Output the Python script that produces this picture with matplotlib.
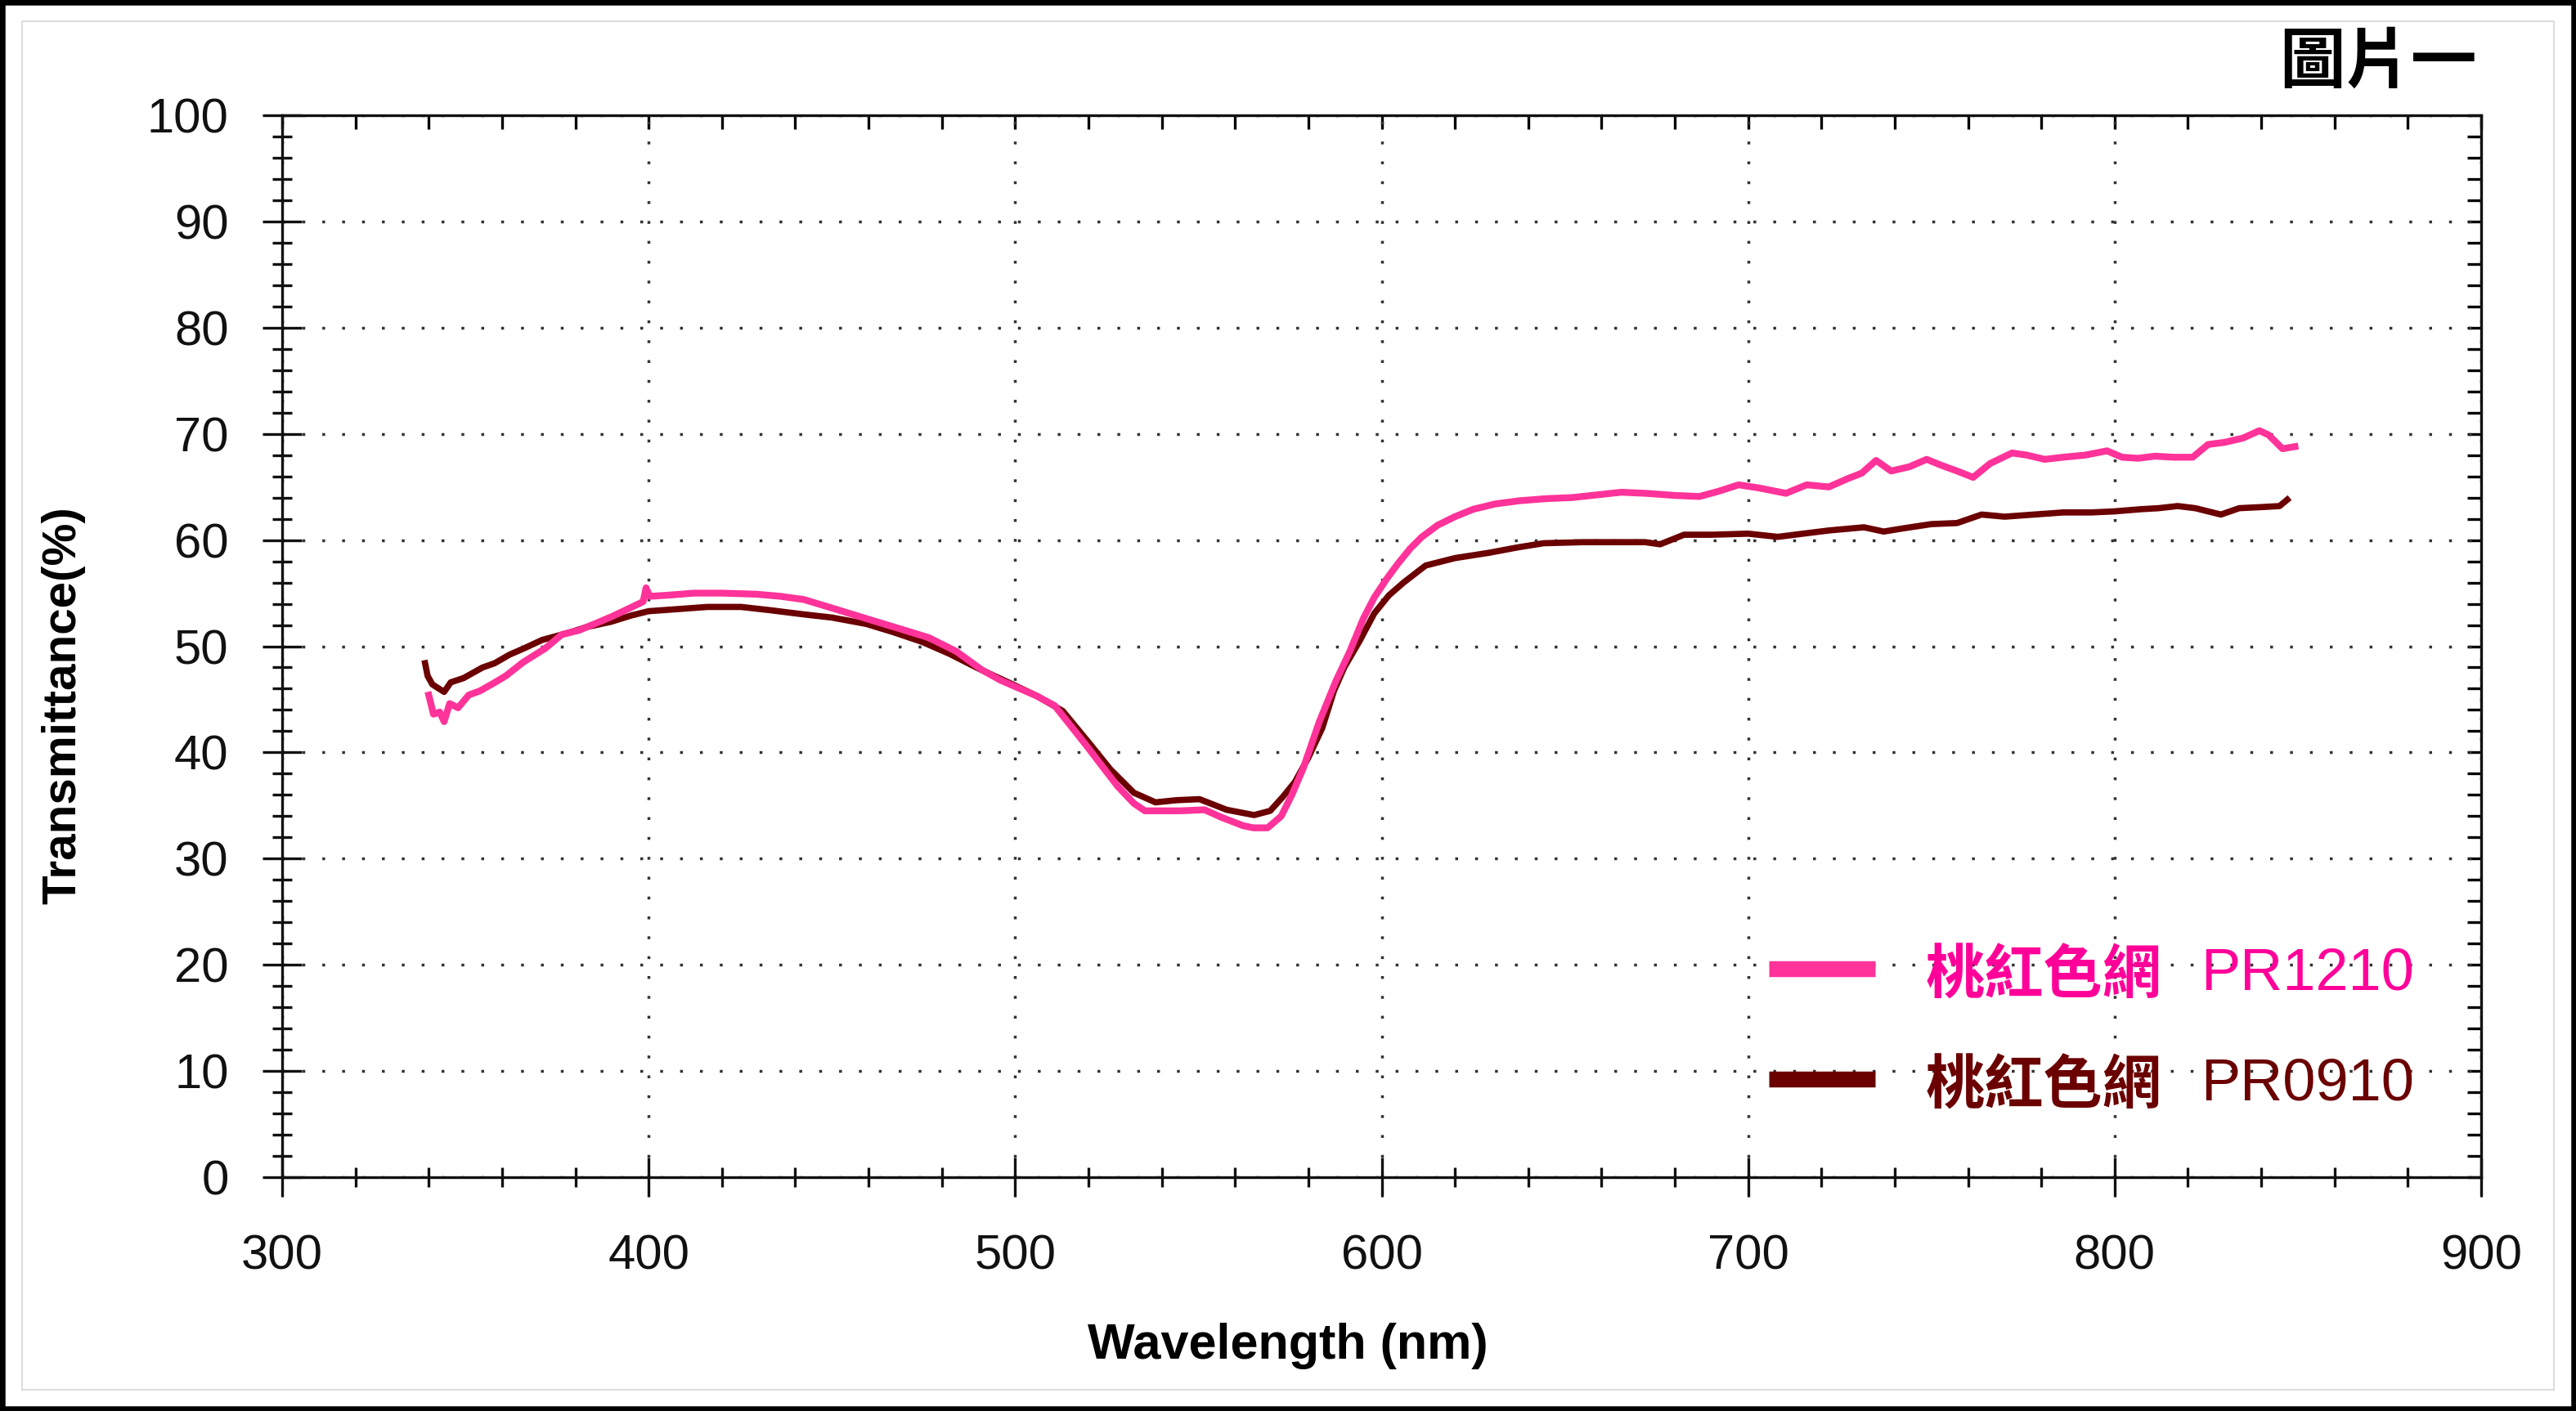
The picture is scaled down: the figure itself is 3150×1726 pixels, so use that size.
import matplotlib
matplotlib.use("Agg")
import matplotlib.pyplot as plt
from matplotlib.lines import Line2D
from matplotlib.patches import Rectangle
from matplotlib.ticker import MultipleLocator

plt.rcParams['font.family'] = ['Liberation Sans', 'Noto Sans CJK TC', 'DejaVu Sans']

# 桃紅色網 PR1210 (pink)
wl_pr1210 = [340, 341.3, 343, 344.2, 345.7, 348, 350.9, 354, 357.6, 361, 365.8, 371.8,
             376.3, 381, 385.9, 390, 395.5, 398.5, 399.3, 400.3, 405, 412.4, 420, 429.4,
             436, 442.3, 450, 459.4, 468, 476.5, 484, 490.8, 496, 502, 506, 510.8, 516.8,
             520, 524.2, 528, 532.4, 535.4, 540, 545, 551.7, 556.2, 562.2, 565, 568.9,
             572.6, 575.5, 578.6, 583, 587.5, 591.3, 595, 598, 601.5, 604.5, 607.8, 611,
             615.3, 620, 625, 631, 637.6, 645, 652, 660, 665.4, 672, 680, 686.7, 692,
             697.4, 703, 710.3, 716, 722, 727.3, 731, 734.9, 739, 744, 748.7, 753, 757,
             761.4, 766, 772, 776, 780.9, 786, 792, 797.9, 802, 806.4, 811, 816, 821.3,
             825.5, 830, 835, 839.5, 842, 845.8, 849.2]
t_pr1210 = [45.4, 43.6, 43.8, 42.9, 44.6, 44.2, 45.4, 45.8, 46.5, 47.2, 48.5, 49.8,
            51.1, 51.5, 52.2, 52.8, 53.7, 54.2, 55.5, 54.7, 54.8, 55.0, 55.0, 54.9,
            54.7, 54.4, 53.6, 52.6, 51.7, 50.8, 49.5, 47.8, 46.8, 45.9, 45.3, 44.4, 41.8,
            40.4, 38.5, 36.8, 35.2, 34.5, 34.5, 34.5, 34.6, 33.9, 33.1, 32.9, 32.9,
            34.0, 36.0, 38.5, 42.9, 46.7, 49.5, 52.6, 54.6, 56.4, 57.8, 59.2, 60.3,
            61.4, 62.2, 62.9, 63.4, 63.7, 63.9, 64.0, 64.3, 64.5, 64.4, 64.2, 64.1, 64.6,
            65.2, 64.9, 64.4, 65.2, 65.0, 65.8, 66.3, 67.5, 66.5, 66.9, 67.6, 67.0, 66.5,
            65.9, 67.2, 68.2, 68.0, 67.6, 67.8, 68.0, 68.4, 67.8, 67.7, 67.9, 67.8, 67.8,
            69.0, 69.2, 69.6, 70.3, 69.9, 68.6, 68.8]

# 桃紅色網 PR0910 (dark red)
wl_pr0910 = [339.0, 339.7, 341, 344.2, 346, 349.5, 354.7, 358, 362, 366, 371, 378.5,
             383, 389.7, 395.3, 400, 408.1, 416, 425.2, 433, 442.3, 450, 459.4, 467,
             474.7, 482, 490, 500, 506, 513, 520.4, 526, 532.4, 538.3, 544, 550.3, 557.7,
             565.2, 569.6, 573, 576.3, 580, 583.8, 587, 589.8, 594, 598, 602, 606, 612,
             620, 629.3, 637, 644.2, 655, 664, 671.9, 676, 682.5, 690, 700, 708.1, 715,
             722, 731.6, 737, 742.3, 750, 757, 763.7, 770, 778, 786, 793.7, 800, 807,
             812, 817.2, 822, 829, 834, 840, 845, 847.1]
t_pr0910 = [48.4, 47.2, 46.4, 45.7, 46.6, 47.0, 48.0, 48.4, 49.2, 49.8, 50.6, 51.3,
            51.8, 52.3, 52.9, 53.3, 53.5, 53.7, 53.7, 53.4, 53.0, 52.7, 52.1, 51.3,
            50.4, 49.3, 47.9, 46.3, 45.3, 43.9, 40.8, 38.4, 36.2, 35.3, 35.5, 35.6, 34.6,
            34.1, 34.5, 35.8, 37.2, 39.5, 42.3, 45.8, 48.0, 50.5, 53.1, 54.8, 56.0, 57.6,
            58.3, 58.8, 59.3, 59.7, 59.8, 59.8, 59.8, 59.6, 60.5, 60.5, 60.6, 60.3, 60.6,
            60.9, 61.2, 60.8, 61.1, 61.5, 61.6, 62.4, 62.2, 62.4, 62.6, 62.6, 62.7, 62.9,
            63.0, 63.2, 63.0, 62.4, 63.0, 63.1, 63.2, 63.8]

series_names = ['桃紅色網', '桃紅色網']
series_codes = ['PR1210', 'PR0910']
line_colors = ['#FF3399', '#6B0000']
text_colors = ['#FF0099', '#6B0000']

W, H = 3150, 1726
fig = plt.figure(figsize=(W / 100, H / 100), dpi=100)
ax = fig.add_axes([345 / W, 1 - 1440 / H, (3034 - 345) / W, (1440 - 141) / H])

ax.plot(wl_pr0910, t_pr0910, color=line_colors[1], lw=5.5, zorder=3)
ax.plot(wl_pr1210, t_pr1210, color=line_colors[0], lw=6, zorder=4)

ax.set_xlim(300, 900)
ax.set_ylim(0, 100)
ax.xaxis.set_major_locator(MultipleLocator(100))
ax.xaxis.set_minor_locator(MultipleLocator(20))
ax.yaxis.set_major_locator(MultipleLocator(10))
ax.yaxis.set_minor_locator(MultipleLocator(2))

ax.grid(True, which='major', color='#333333', lw=2.5, linestyle=(0, (1, 6)))
for s in ax.spines.values():
    s.set_linewidth(2.4)
    s.set_color('#111111')

ax.tick_params(which='major', direction='inout', length=34, width=2.4,
               labelsize=43, pad=30, colors='#111111')
ax.tick_params(which='minor', direction='inout', length=17, width=2.4, colors='#111111')
ax.tick_params(axis='x', which='major', pad=33)

top = ax.secondary_xaxis('top')
top.xaxis.set_major_locator(MultipleLocator(20))
top.tick_params(direction='in', length=12, width=2.4, labeltop=False)
right = ax.secondary_yaxis('right')
right.yaxis.set_major_locator(MultipleLocator(2))
right.tick_params(direction='in', length=12, width=2.4, labelright=False)

ax.set_xlabel('Wavelength (nm)', fontsize=44, fontweight='bold')
ax.set_ylabel('Transmittance(%)', fontsize=42, fontweight='bold')
ax.yaxis.set_label_coords(104 / W, 0.5, transform=fig.transFigure)
ax.xaxis.set_label_coords(0.5, 1 - 1618 / H, transform=fig.transFigure)

# legend drawn by hand: bold CJK name + regular code
rows_y = [1185, 1320]
for i in range(2):
    y = 1 - rows_y[i] / H
    fig.add_artist(Line2D([2163 / W, 2293 / W], [y, y], color=line_colors[i], lw=14,
                          solid_capstyle='butt'))
    fig.text(2355 / W, 1 - (rows_y[i] + 9) / H, series_names[i], fontsize=52,
             fontweight='bold', color=text_colors[i], family='Noto Sans CJK TC',
             va='center', ha='left')
    fig.text(2691 / W, 1 - (rows_y[i] + 7) / H, series_codes[i], fontsize=52,
             color=text_colors[i], va='center', ha='left')

fig.text(2908 / W, 1 - 77 / H, '圖片一', fontsize=58, fontweight='bold',
         family='Noto Sans CJK TC', ha='center', va='center', color='black')

# outer frame
fig.add_artist(Rectangle((27 / W, 26 / H), 1 - 54 / W, 1 - 52 / H, fill=False,
                         edgecolor='#DDDDDD', lw=1.5, transform=fig.transFigure))
fig.add_artist(Rectangle((0, 0), 1, 1, fill=False, edgecolor='black', lw=9,
                         transform=fig.transFigure))

fig.savefig('out.png', dpi=100)
